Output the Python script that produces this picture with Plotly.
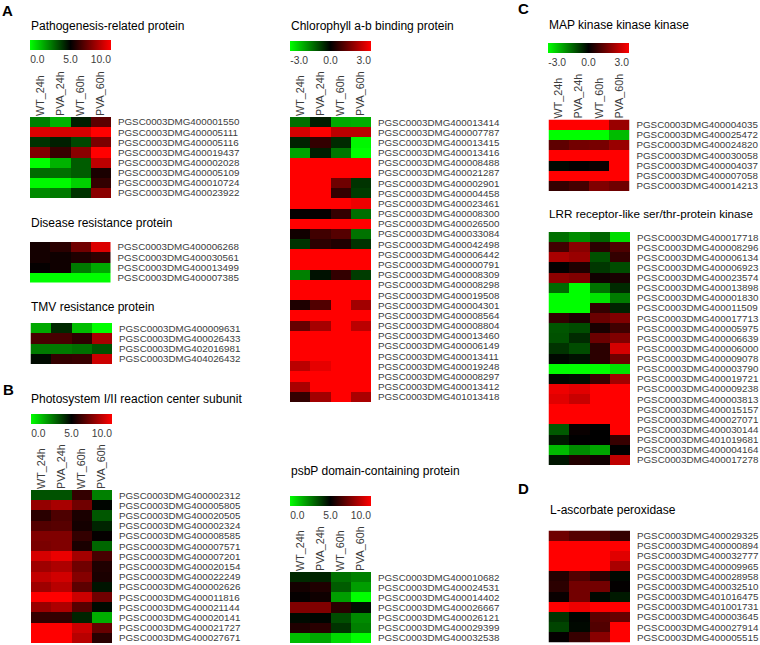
import plotly.graph_objects as go

W, H = 760, 645
FONT = "Liberation Sans"
GENE_COLOR = "#3c3c3c"

samples = ["WT_24h", "PVA_24h", "WT_60h", "PVA_60h"]

# green - black - red, same map in every panel
red_green = [[0, "rgb(0,255,0)"], [0.5, "rgb(0,0,0)"], [1, "rgb(255,0,0)"]]

patho_genes = ["PGSC0003DMG400001550", "PGSC0003DMG400005111", "PGSC0003DMG400005116", "PGSC0003DMG400019437",
               "PGSC0003DMG400002028", "PGSC0003DMG400005109", "PGSC0003DMG400010724", "PGSC0003DMG400023922"]
patho_vals = [[2.5, 1.5, 4.4, 6.8], [9.3, 9.2, 9.2, 10], [4.0, 4.4, 3.6, 7.4], [7.5, 6.1, 7.7, 10],
              [0.0, 1.5, 3.2, 8.7], [2.9, 2.8, 3.2, 5.5], [0.1, 0.1, 0.9, 6.0], [2.3, 2.6, 4.0, 7.7]]

disease_genes = ["PGSC0003DMG400006268", "PGSC0003DMG400030561", "PGSC0003DMG400013499", "PGSC0003DMG400007385"]
disease_vals = [[5.4, 5.8, 7.2, 9.3], [5.4, 5.3, 5.6, 5.9], [5.1, 5.3, 2.6, 1.7], [0.0, 0.0, 0.0, 0.0]]

tmv_genes = ["PGSC0003DMG400009631", "PGSC0003DMG400026433", "PGSC0003DMG402016981", "PGSC0003DMG404026432"]
tmv_vals = [[1.7, 4.2, 1.3, 0.0], [6.4, 6.4, 5.9, 8.3], [2.6, 2.6, 2.8, 3.4], [4.8, 6.0, 6.1, 9.0]]

photo_genes = ["PGSC0003DMG400002312", "PGSC0003DMG400005805", "PGSC0003DMG400020505", "PGSC0003DMG400002324",
               "PGSC0003DMG400008585", "PGSC0003DMG400007571", "PGSC0003DMG400007201", "PGSC0003DMG400020154",
               "PGSC0003DMG400022249", "PGSC0003DMG400002626", "PGSC0003DMG400011816", "PGSC0003DMG400021144",
               "PGSC0003DMG400020141", "PGSC0003DMG400021727", "PGSC0003DMG400027671"]
photo_vals = [[3.4, 3.4, 6.0, 2.5], [7.9, 8.3, 7.2, 4.9], [5.8, 6.5, 5.5, 3.3], [6.6, 6.7, 5.4, 4.3],
              [7.5, 7.5, 6.0, 5.1], [7.4, 7.5, 5.5, 3.0], [9.2, 9.6, 8.2, 6.4], [8.1, 8.4, 7.2, 5.6],
              [8.8, 9.1, 7.6, 5.5], [8.1, 8.6, 6.8, 4.6], [10, 10, 9.0, 7.2], [8.0, 8.4, 6.7, 4.8],
              [6.0, 6.0, 4.3, 1.6], [10, 10, 9.0, 7.0], [10, 10, 8.6, 5.8]]

chloro_genes = ["PGSC0003DMG400013414", "PGSC0003DMG400007787", "PGSC0003DMG400013415", "PGSC0003DMG400013416",
                "PGSC0003DMG400008488", "PGSC0003DMG400021287", "PGSC0003DMG400002901", "PGSC0003DMG400004458",
                "PGSC0003DMG400023461", "PGSC0003DMG400008300", "PGSC0003DMG400026500", "PGSC0003DMG400033084",
                "PGSC0003DMG400042498", "PGSC0003DMG400006442", "PGSC0003DMG400000791", "PGSC0003DMG400008309",
                "PGSC0003DMG400008298", "PGSC0003DMG400019508", "PGSC0003DMG400004301", "PGSC0003DMG400008564",
                "PGSC0003DMG400008804", "PGSC0003DMG400013460", "PGSC0003DMG400006149", "PGSC0003DMG400013411",
                "PGSC0003DMG400019248", "PGSC0003DMG400008297", "PGSC0003DMG400013412", "PGSC0003DMG401013418"]
chloro_vals = [[-1.3, -0.35, -2.0, -2.05], [2.5, 3, 2.2, 2.2], [-0.4, 0.6, -0.5, -2.9], [-1.9, -0.35, -1.4, -3],
               [3, 3, 3, 3], [3, 3, 3, 3], [3, 3, 1.3, -0.6], [3, 3, 0.6, -0.7],
               [3, 3, 3, 2.8], [0.05, 0.05, 0.6, -1.3], [3, 3, 3, 3], [0.2, 0.75, 1.0, -1.35],
               [-0.6, 0.5, 0.35, -0.6], [3, 3, 3, 3], [3, 3, 3, 3], [-1.5, -0.2, 0.6, -0.7],
               [3, 3, 3, 3], [3, 3, 3, 3], [0.35, 0.95, 3, 1.9], [3, 3, 3, 3],
               [1.2, 1.95, 3, 2.2], [3, 3, 3, 3], [3, 3, 3, 3], [3, 3, 3, 3],
               [2.2, 2.7, 3, 3], [3, 3, 3, 3], [2.0, 3, 3, 3], [0.6, 1.9, 3, 2.0]]

psbp_genes = ["PGSC0003DMG400010682", "PGSC0003DMG400024531", "PGSC0003DMG400014402", "PGSC0003DMG400026667",
              "PGSC0003DMG400026121", "PGSC0003DMG400029399", "PGSC0003DMG400032538"]
psbp_vals = [[4.2, 4.3, 2.8, 2.5], [5.4, 5.6, 3.2, 1.9], [5.1, 5.3, 1.9, 0.0], [7.5, 7.5, 5.8, 4.7],
             [4.8, 4.9, 3.5, 2.3], [5.6, 5.8, 4.0, 2.5], [1.3, 1.7, 0.7, 0.0]]

map_genes = ["PGSC0003DMG400004035", "PGSC0003DMG400025472", "PGSC0003DMG400024820", "PGSC0003DMG400030058",
             "PGSC0003DMG400004037", "PGSC0003DMG400007058", "PGSC0003DMG400014213"]
map_vals = [[3, 3, 3, 1.8], [-3, -3, -3, -2.2], [1.1, 1.35, 1.4, 1.8], [3, 3, 3, 3],
            [-0.1, 0.03, 0.1, 3], [3, 3, 3, 3], [0.6, 0.8, 1.5, 1.3]]

lrr_genes = ["PGSC0003DMG400017718", "PGSC0003DMG400008296", "PGSC0003DMG400006134", "PGSC0003DMG400006923",
             "PGSC0003DMG400023574", "PGSC0003DMG400013898", "PGSC0003DMG400001830", "PGSC0003DMG400011509",
             "PGSC0003DMG400017713", "PGSC0003DMG400005975", "PGSC0003DMG400006639", "PGSC0003DMG400006000",
             "PGSC0003DMG400009078", "PGSC0003DMG400003790", "PGSC0003DMG400019721", "PGSC0003DMG400009238",
             "PGSC0003DMG400003813", "PGSC0003DMG400015157", "PGSC0003DMG400027071", "PGSC0003DMG400030144",
             "PGSC0003DMG401019681", "PGSC0003DMG400004164", "PGSC0003DMG400017278"]
lrr_vals = [[-1.3, -1.65, -1.2, -2.6], [0.75, 1.6, 0.5, 0.9], [2.0, 1.8, -0.95, 0.6], [0.05, 0.35, -0.65, -0.9],
            [1.65, 1.5, 0.2, 0.3], [-1.25, -3, -1.35, -0.5], [-3, -3, -2.7, -1.45], [-3, -3, 0.6, -0.4],
            [0.6, 0.35, 1.25, 1.5], [-1.0, -0.9, 0.3, 0.75], [-0.95, -0.5, 1.25, 1.5], [-0.6, -0.9, 0.5, 2.5],
            [-0.1, -0.2, 0.5, 1.3], [-3, -3, -3, -2.65], [-0.1, -0.15, 0.7, 1.9], [2.8, 2.65, 3, 3],
            [2.65, 2.35, 3, 3], [3, 3, 3, 3], [3, 3, 3, 3], [-1.05, 0.1, 0.0, 3],
            [-0.3, 0.0, 0.0, 0.65], [-2.2, -1.65, -1.95, 0.0], [-0.25, 0.4, 0.2, 2.25]]

lasc_genes = ["PGSC0003DMG400029325", "PGSC0003DMG400000894", "PGSC0003DMG400032777", "PGSC0003DMG400009965",
              "PGSC0003DMG400028958", "PGSC0003DMG400032510", "PGSC0003DMG401016475", "PGSC0003DMG401001731",
              "PGSC0003DMG400003645", "PGSC0003DMG400027914", "PGSC0003DMG400005515"]
lasc_vals = [[1.3, 1.0, 1.0, 0.6], [3, 3, 3, 3], [3, 3, 3, 2.65], [3, 3, 3, 2.0],
             [0.4, 0.95, 0.5, -0.1], [0.5, 1.35, 1.35, 0.03], [0.1, 1.35, -0.1, -0.3], [3, 2.8, 3, 3],
             [-0.6, -0.05, 1.05, 1.2], [-0.8, -0.1, 0.95, 3], [0.05, 0.65, 1.6, 3]]

# title, genes, values, z range, heatmap box in px (x0, y0, x1, y1), title pos, title size, colour bar corner or None
panels = [
    ("Pathogenesis-related protein", patho_genes, patho_vals, (0, 10), (30, 117, 111, 198), (30, 26), 12, (30, 40)),
    ("Disease resistance protein", disease_genes, disease_vals, (0, 10), (30, 242, 110.5, 282.5), (30, 223), 12, None),
    ("TMV resistance protein", tmv_genes, tmv_vals, (0, 10), (30.5, 323, 112, 364), (30, 307), 12, None),
    ("Photosystem I/II reaction center subunit", photo_genes, photo_vals, (0, 10), (31, 490, 112, 643), (30, 399), 12, (31, 414)),
    ("Chlorophyll a-b binding protein", chloro_genes, chloro_vals, (-3, 3), (290, 117, 371, 402), (290, 26), 12, (290, 41)),
    ("psbP domain-containing protein", psbp_genes, psbp_vals, (0, 10), (290, 572, 371, 643), (290, 471), 12, (290, 496)),
    ("MAP kinase kinase kinase", map_genes, map_vals, (-3, 3), (548.5, 119.5, 629.5, 191), (548, 25), 12, (548, 43)),
    ("LRR receptor-like ser/thr-protein kinase", lrr_genes, lrr_vals, (-3, 3), (548.5, 232, 630, 465), (548, 214), 11.7, None),
    ("L-ascorbate peroxidase", lasc_genes, lasc_vals, (-3, 3), (548.5, 530.5, 630, 642.5), (549, 510), 12, None),
]

# labels sit inside the bar ends in the original, so the end ticks are pulled in
bar_ticks = {
    (0, 10): ([0.9, 5, 8.75], ["0.0", "5.0", "10.0"]),
    (-3, 3): ([-2.32, 0, 2.46], ["-3.0", "0.0", "3.0"]),
}

letters = [("A", 1, 10), ("B", 2, 389), ("C", 517, 9), ("D", 517, 488)]

fig = go.Figure()
axes = {}
notes = []

for i, (title, genes, vals, zr, box, title_pos, title_size, bar_pos) in enumerate(panels, start=1):
    x0, y0, x1, y1 = box
    suffix = "" if i == 1 else str(i)
    trace = go.Heatmap(
        z=vals, x=samples, y=genes, zmin=zr[0], zmax=zr[1], colorscale=red_green,
        xaxis="x" + suffix, yaxis="y" + suffix, showscale=bar_pos is not None,
    )
    if bar_pos is not None:
        tickvals, ticktext = bar_ticks[zr]
        trace.colorbar = dict(
            orientation="h", lenmode="pixels", len=81, thicknessmode="pixels", thickness=10,
            x=bar_pos[0] / W, xanchor="left", y=1 - bar_pos[1] / H, yanchor="top",
            xpad=0, ypad=0, outlinewidth=0, ticks="outside", ticklen=1, tickcolor="rgba(0,0,0,0)",
            tickvals=tickvals, ticktext=ticktext,
            tickfont=dict(family=FONT, size=10.3, color=GENE_COLOR),
        )
    fig.add_trace(trace)

    axes["xaxis" + suffix] = dict(
        domain=[x0 / W, x1 / W], anchor="y" + suffix, side="top", type="category",
        showgrid=False, zeroline=False, showline=False, tickangle=-90, ticks="",
        showticklabels=bar_pos is not None,
        tickfont=dict(family=FONT, size=10.8, color=GENE_COLOR),
    )
    axes["yaxis" + suffix] = dict(
        domain=[1 - y1 / H, 1 - y0 / H], anchor="x" + suffix, side="right", type="category",
        autorange="reversed", showgrid=False, zeroline=False, showline=False, dtick=1,
        ticks="outside", ticklen=4, tickcolor="rgba(0,0,0,0)",
        tickfont=dict(family=FONT, size=9.8, color=GENE_COLOR),
    )
    notes.append(dict(
        text=title, x=title_pos[0] / W, y=1 - title_pos[1] / H, xref="paper", yref="paper",
        xanchor="left", yanchor="middle", showarrow=False, xshift=-1,
        font=dict(family=FONT, size=title_size, color="#000000"),
    ))

for text, x, y in letters:
    notes.append(dict(
        text="<b>%s</b>" % text, x=x / W, y=1 - y / H, xref="paper", yref="paper",
        xanchor="left", yanchor="middle", showarrow=False, xshift=-1,
        font=dict(family=FONT, size=15, color="#000000"),
    ))

fig.update_layout(
    width=W, height=H, margin=dict(l=0, r=0, t=0, b=0), paper_bgcolor="white", plot_bgcolor="white",
    showlegend=False, annotations=notes, **axes,
)

fig.write_html("out.html", config={"displayModeBar": False}, post_script="document.body.style.margin='0';")
